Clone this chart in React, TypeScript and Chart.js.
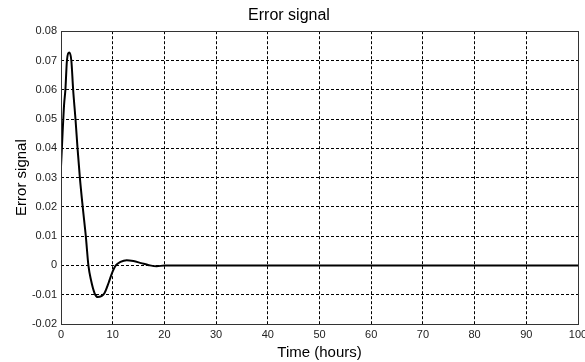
import React, { useEffect, useRef } from "react";
import { Chart, registerables } from "chart.js";

Chart.register(...registerables);

const timeHours = [0, 0.3, 0.6, 0.85, 1.15, 1.6, 2.0, 2.35, 2.8, 3.2, 3.65, 4.2, 4.8, 5.3, 5.8, 6.5, 7.1, 7.8, 8.4, 9.2, 10, 10.6, 11.5, 12.7, 14, 15.5, 17, 18.5, 20, 30, 40, 50, 60, 70, 80, 90, 100];
const errorValues = [0.0337, 0.045, 0.055, 0.06, 0.07, 0.0727, 0.07, 0.06, 0.05, 0.04, 0.03, 0.02, 0.01, 0.0, -0.005, -0.0095, -0.0108, -0.0105, -0.0095, -0.006, -0.002, 0.0, 0.0012, 0.0018, 0.0015, 0.0008, 0.0001, -0.0003, 0, 0, 0, 0, 0, 0, 0, 0, 0];

const titleText = "Error signal";
const xAxisTitle = "Time (hours)";
const yAxisTitle = "Error signal";
const xMin = 0, xMax = 100, xStep = 10;
const yMin = -0.02, yMax = 0.08, yStep = 0.01;

const FONT = "'Liberation Sans', Arial, sans-serif";

const frame = {
  id: "frame",
  afterDatasetsDraw(chart: any) {
    const { ctx, chartArea } = chart;
    ctx.save();
    ctx.strokeStyle = "#333";
    ctx.lineWidth = 1;
    ctx.setLineDash([]);
    ctx.strokeRect(Math.round(chartArea.left) + 0.5, Math.round(chartArea.top) + 0.5, Math.round(chartArea.right - chartArea.left), Math.round(chartArea.bottom - chartArea.top));
    ctx.restore();
  },
};

export default function App() {
  const ref = useRef<HTMLCanvasElement>(null);
  useEffect(() => {
    document.body.style.margin = "0";
    const chart = new Chart(ref.current!, {
      type: "line",
      data: {
        datasets: [
          {
            data: timeHours.map((t, i) => ({ x: t, y: errorValues[i] })),
            borderColor: "#000",
            borderWidth: 2,
            pointRadius: 0,
            cubicInterpolationMode: "monotone",
            fill: false,
          },
        ],
      },
      options: {
        animation: false,
        responsive: false,
        layout: { padding: { left: 0, right: 7, top: 0, bottom: 0 } },
        plugins: {
          legend: { display: false },
          tooltip: { enabled: false },
          title: {
            display: true,
            text: titleText,
            color: "#000",
            font: { family: FONT, size: 16, weight: "normal" },
            padding: { top: 6, bottom: 6 },
          },
        },
        scales: {
          x: {
            type: "linear",
            min: xMin,
            max: xMax,
            ticks: { stepSize: xStep, color: "#222", font: { family: FONT, size: 11 }, padding: 4, maxRotation: 0 },
            grid: { color: "#000", lineWidth: 1, tickLength: 0, drawTicks: false },
            border: { display: false, dash: [3, 2] },
            title: { display: true, text: xAxisTitle, color: "#000", font: { family: FONT, size: 15 }, padding: { top: 1, bottom: 0 } },
            afterFit(scale: any) {
              scale.paddingRight = 0;
              scale.paddingLeft = 0;
              scale.height = 38;
            },
          },
          y: {
            type: "linear",
            min: yMin,
            max: yMax,
            ticks: {
              stepSize: yStep,
              color: "#222",
              font: { family: FONT, size: 11 },
              padding: 4,
              callback: (v: any) => String(Number(Number(v).toFixed(2))),
            },
            grid: { color: "#000", lineWidth: 1, drawTicks: false },
            border: { display: false, dash: [3, 2] },
            title: { display: true, text: yAxisTitle, color: "#000", font: { family: FONT, size: 15 }, padding: { top: 13, bottom: 0 } },
            afterFit(scale: any) {
              scale.width = 61;
              scale.paddingTop = 0;
              scale.paddingBottom = 0;
            },
          },
        },
      },
      plugins: [frame],
    } as any);
    return () => chart.destroy();
  }, []);
  return (
    <div style={{ position: "absolute", left: 0, top: 0, width: 585, height: 362, background: "#fff" }}>
      <canvas ref={ref} width={585} height={362} style={{ width: 585, height: 362 }} />
    </div>
  );
}
